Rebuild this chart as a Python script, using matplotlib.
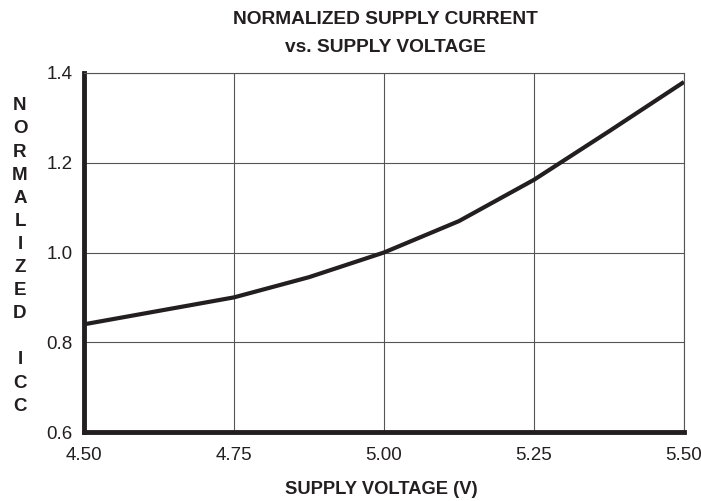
import matplotlib
matplotlib.use("Agg")
import matplotlib.pyplot as plt

plt.rcParams['font.family'] = ['Liberation Sans', 'DejaVu Sans']

# данные
voltage = [4.50, 4.625, 4.75, 4.875, 5.00, 5.125, 5.25, 5.375, 5.50]
icc_norm = [0.84, 0.87, 0.90, 0.945, 1.00, 1.07, 1.162, 1.27, 1.38]
x_ticks = [4.50, 4.75, 5.00, 5.25, 5.50]
y_ticks = [0.6, 0.8, 1.0, 1.2, 1.4]

fig = plt.figure(figsize=(7.01, 5.01), dpi=100)
ax = fig.add_axes([0.1198, 0.1377, 0.8559, 0.7166])

ax.plot(voltage, icc_norm, color='#231f20', linewidth=3.0, solid_capstyle='butt', zorder=3)

ax.set_xlim(4.50, 5.50)
ax.set_ylim(0.6, 1.4)
ax.set_xticks(x_ticks)
ax.set_xticklabels([f"{v:.2f}" for v in x_ticks])
ax.set_yticks(y_ticks)
ax.set_yticklabels([f"{v:.1f}" for v in y_ticks])
ax.tick_params(length=0, labelsize=13.5, colors='#231f20')
ax.tick_params(axis='x', pad=11)
ax.tick_params(axis='y', pad=8)
ax.grid(True, color='#555555', linewidth=0.8)
ax.set_axisbelow(True)

for side in ['left', 'bottom']:
    ax.spines[side].set_linewidth(3.5)
    ax.spines[side].set_color('#231f20')
for side in ['top', 'right']:
    ax.spines[side].set_linewidth(0.8)
    ax.spines[side].set_color('#555555')

fig.text(385 / 701, 1 - 19 / 501, "NORMALIZED SUPPLY CURRENT", ha='center', va='center',
         fontsize=13.8, fontweight='bold', color='#231f20')
fig.text(385 / 701, 1 - 48 / 501, "vs. SUPPLY VOLTAGE", ha='center', va='center',
         fontsize=13.8, fontweight='bold', color='#231f20')
fig.text(381 / 701, 1 - 490 / 501, "SUPPLY VOLTAGE (V)", ha='center', va='center',
         fontsize=13.2, fontweight='bold', color='#231f20')

ylabel = "\n".join(list("NORMALIZED") + [""] + list("ICC"))
fig.text(20 / 701, 1 - 256 / 501, ylabel, ha='center', va='center', fontsize=13.5,
         fontweight='bold', linespacing=1.47, color='#231f20')

fig.savefig("out.png", dpi=100)
